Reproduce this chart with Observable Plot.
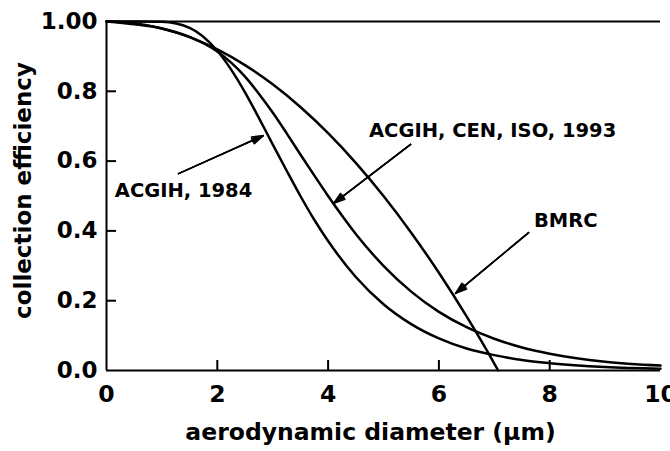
<!DOCTYPE html>
<html><head><meta charset="utf-8">
<script src="https://cdn.jsdelivr.net/npm/d3@7"></script>
<script src="https://cdn.jsdelivr.net/npm/@observablehq/plot@0.6"></script>
<style>body{margin:0;background:#fff}</style>
</head><body><div id="chart"></div>
<script>
// ---- data ----
const diam1984 = [0, 0.5, 1, 1.5, 2, 2.25, 2.5, 2.75, 3, 3.25, 3.5, 3.75, 4, 4.5, 5, 5.5, 6, 6.5, 7, 7.5, 8, 9, 10];
const eff1984  = [1.000, 1.000, 0.999, 0.982, 0.916, 0.862, 0.797, 0.724, 0.648, 0.573, 0.500, 0.432, 0.371, 0.268, 0.190, 0.133, 0.092, 0.063, 0.044, 0.030, 0.021, 0.010, 0.005];

const diam1993 = [0, 0.5, 1, 1.5, 2, 2.25, 2.5, 2.75, 3, 3.25, 3.5, 3.75, 4, 4.25, 4.5, 5, 5.5, 6, 6.5, 7, 7.5, 8, 9, 10];
const eff1993  = [1.000, 0.992, 0.980, 0.956, 0.914, 0.882, 0.842, 0.793, 0.739, 0.680, 0.619, 0.559, 0.500, 0.444, 0.391, 0.300, 0.226, 0.168, 0.124, 0.091, 0.066, 0.048, 0.025, 0.014];

const diamBMRC = [0, 0.5, 1, 1.5, 2, 2.5, 3, 3.5, 4, 4.5, 5, 5.5, 6, 6.5, 7, 7.07];
const effBMRC  = [1.000, 0.995, 0.980, 0.955, 0.920, 0.875, 0.820, 0.755, 0.680, 0.595, 0.500, 0.395, 0.280, 0.155, 0.020, 0.000];

const seriesNames = ["ACGIH, 1984", "ACGIH, CEN, ISO, 1993", "BMRC"];

const xTicks = [0, 2, 4, 6, 8, 10];
const xTickMarks = [2, 4, 6, 8];
const yTicks = [0, 0.2, 0.4, 0.6, 0.8, 1];
const yTickLabels = ["0.0", "0.2", "0.4", "0.6", "0.8", "1.00"];
const yTickMarks = [0.2, 0.4, 0.6, 0.8];

const xLabel = "aerodynamic diameter (\u00b5m)";
const yLabel = "collection efficiency";

// annotation labels and arrows (data units)
const labelText = ["ACGIH, 1984", "ACGIH, CEN, ISO, 1993", "BMRC"];
const labelX = [1.39, 6.97, 8.29];
const labelY = [0.516, 0.686, 0.428];
const arrowX1 = [1.30, 5.49, 7.62];
const arrowY1 = [0.564, 0.648, 0.395];
const arrowX2 = [2.83, 4.10, 6.30];
const arrowY2 = [0.673, 0.479, 0.221];

// ---- build tables ----
const seriesData = [[diam1984, eff1984], [diam1993, eff1993], [diamBMRC, effBMRC]];
const rows = seriesData.flatMap(([ds, es], k) => ds.map((d, i) => ({series: seriesNames[k], d, e: es[i]})));
const notes = labelText.map((t, i) => ({text: t, x: labelX[i], y: labelY[i], x1: arrowX1[i], y1: arrowY1[i], x2: arrowX2[i], y2: arrowY2[i]}));

const FONT = "'DejaVu Sans', Verdana, sans-serif";

const plot = Plot.plot({
  width: 670, height: 451,
  marginLeft: 106, marginRight: 10, marginTop: 21, marginBottom: 81,
  style: {fontFamily: FONT, fontWeight: "bold", background: "#fff", color: "#000"},
  x: {domain: [0, 10]},
  y: {domain: [0, 1]},
  marks: [
    Plot.axisX({ticks: xTicks, tickSize: 0, tickPadding: 15, fontSize: 23.5, fontWeight: "bold", label: null, tickFormat: d => String(d)}),
    Plot.axisY({ticks: yTicks, tickSize: 0, tickPadding: 9, fontSize: 23, fontWeight: "bold", label: null, tickFormat: d => yTickLabels[yTicks.indexOf(d)]}),
    Plot.tickX(xTickMarks, {x: d => d, insetTop: 339, stroke: "#000", strokeWidth: 2}),
    Plot.tickY(yTickMarks, {y: d => d, insetRight: 544, stroke: "#000", strokeWidth: 2}),
    Plot.ruleX([0], {stroke: "#000", strokeWidth: 2}),
    Plot.ruleY([0, 1], {stroke: "#000", strokeWidth: 2}),
    Plot.line(rows, {x: "d", y: "e", z: "series", stroke: "#000", strokeWidth: 2.5, curve: "monotone-x"}),
    ...[36, 24, 12].map(a => Plot.arrow(notes, {x1: "x1", y1: "y1", x2: "x2", y2: "y2", stroke: "#000", strokeWidth: 1.5, headLength: 12, headAngle: a})),
    Plot.text(notes, {x: "x", y: "y", text: "text", fontSize: 19.5, fontWeight: "bold", fill: "#000"}),
    Plot.text([yLabel], {text: d => d, frameAnchor: "left", textAnchor: "middle", lineAnchor: "middle", rotate: -90, dx: -83, dy: -5.5, fontSize: 23, fontWeight: "bold", fill: "#000"}),
    Plot.text([xLabel], {text: d => d, frameAnchor: "bottom", textAnchor: "middle", lineAnchor: "middle", dx: -13, dy: 62, fontSize: 23.5, fontWeight: "bold", fill: "#000"})
  ]
});
document.getElementById("chart").appendChild(plot);
</script>
</body></html>
